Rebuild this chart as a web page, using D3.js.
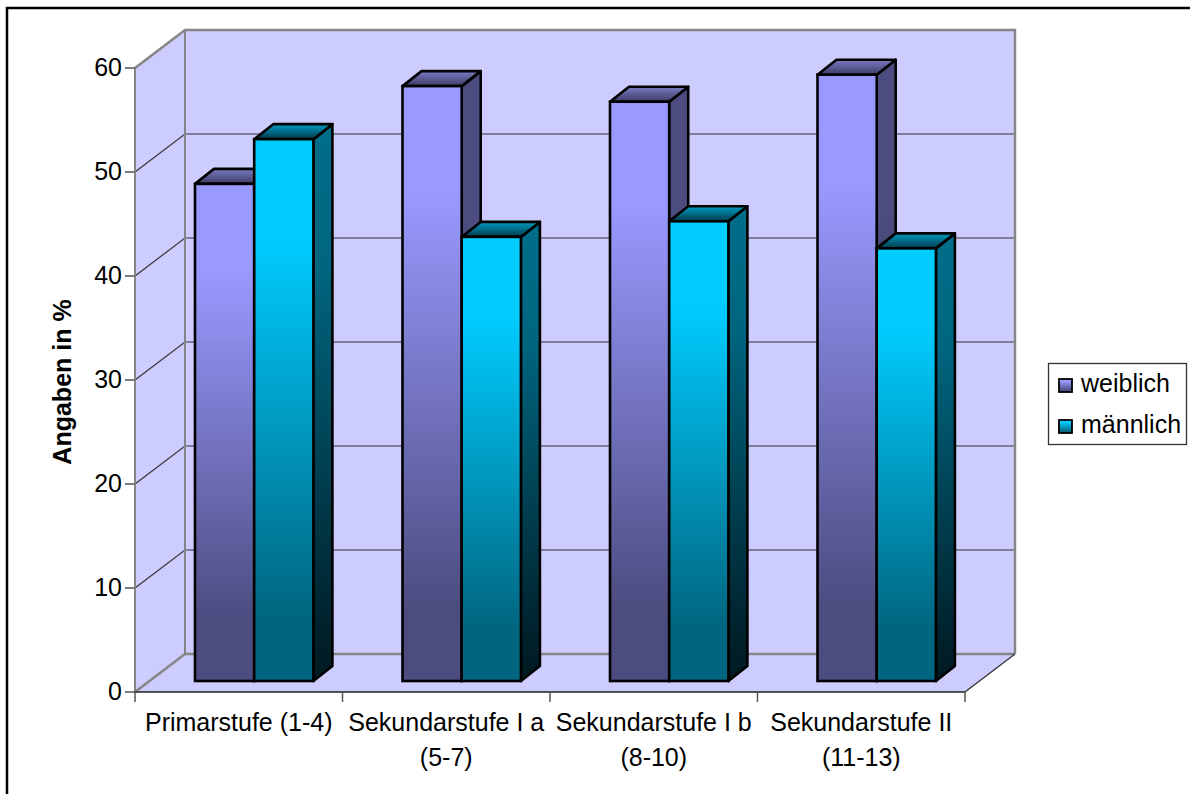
<!DOCTYPE html>
<html><head><meta charset="utf-8">
<script src="https://cdn.jsdelivr.net/npm/d3@7"></script>
<style>html,body{margin:0;padding:0;background:#fff}svg{display:block}text{font-family:"Liberation Sans",Arial,sans-serif;fill:#000}</style>
</head><body><div id="c"></div>
<script>
const categories = [["Primarstufe (1-4)"],["Sekundarstufe I a","(5-7)"],["Sekundarstufe I b","(8-10)"],["Sekundarstufe II","(11-13)"]];
const seriesNames = ["weiblich","männlich"];
const weiblich = [47.8,57.2,55.7,58.3];
const maennlich = [52.1,42.7,44.2,41.6];
const yTicks = [0,10,20,30,40,50,60];
const axisTitle = "Angaben in %";

const W=1190,H=794;
const svg=d3.select("#c").append("svg").attr("width",W).attr("height",H);
const defs=svg.append("defs");
function grad(id,stops){
  const g=defs.append("linearGradient").attr("id",id).attr("x1",0).attr("y1",0).attr("x2",0).attr("y2",1);
  stops.forEach(([o,c])=>g.append("stop").attr("offset",o).attr("stop-color",c));
}
const pal=[
 {front:["#9999ff","#9999ff","#4c4c80","#4c4c80"],side:["#4c4c80","#4c4c80","#1a1a30","#0c0c1a"],top:["#7a7ac4","#3d3d66"]},
 {front:["#00ccff","#00ccff","#006680","#006680"],side:["#006e8a","#006680","#00202a","#001a20"],top:["#009cc4","#00394a"]}
];
pal.forEach((p,i)=>{
  grad("f"+i,[[0,p.front[0]],[.18,p.front[1]],[.88,p.front[2]],[1,p.front[3]]]);
  grad("s"+i,[[0,p.side[0]],[.25,p.side[1]],[.92,p.side[2]],[1,p.side[3]]]);
  grad("t"+i,[[0,p.top[0]],[1,p.top[1]]]);
});

// frame
svg.append("path").attr("d",`M7,${H}V8H${W}`).attr("fill","none").attr("stroke","#000").attr("stroke-width",2.5);

// scales
const x0=135,x1=965,depthX=50,depthY=38;
const y=d3.scaleLinear().domain([0,60]).range([692,68]);
const x=d3.scaleBand().domain(d3.range(categories.length)).range([x0,x1]);
const barW=59.2, barDY=11, bdx=19, bdy=15;
const bgInk="#ccccff", gray="#868686";

const g=svg.append("g");
// walls & floor
const yTop=y(60), yBot=y(0);
g.append("path").attr("d",`M${x0},${yBot}L${x0+depthX},${yBot-depthY}V${yTop-depthY}L${x0},${yTop}Z`).attr("fill",bgInk);
g.append("rect").attr("x",x0+depthX).attr("y",yTop-depthY).attr("width",x1-x0).attr("height",yBot-yTop).attr("fill",bgInk);
g.append("path").attr("d",`M${x0},${yBot}H${x1}L${x1+depthX},${yBot-depthY}H${x0+depthX}Z`).attr("fill",bgInk);

// gridlines
yTicks.filter(t=>t!==0&&t!==60).forEach(t=>{
  const yy=y(t);
  g.append("path").attr("d",`M${x0},${yy}L${x0+depthX},${yy-depthY}H${x1+depthX}`).attr("fill","none").attr("stroke","#333").attr("stroke-width",1.2);
});
// plane outlines
g.append("path").attr("d",`M${x0},${yBot}L${x0+depthX},${yBot-depthY}H${x1+depthX}`).attr("fill","none").attr("stroke",gray).attr("stroke-width",2.5);
g.append("path").attr("d",`M${x0},${yTop}L${x0+depthX},${yTop-depthY}H${x1+depthX}V${yBot-depthY}`).attr("fill","none").attr("stroke",gray).attr("stroke-width",2.5);
g.append("line").attr("x1",x0+depthX).attr("x2",x0+depthX).attr("y1",yTop-depthY).attr("y2",yBot-depthY).attr("stroke",gray).attr("stroke-width",2);
g.append("line").attr("x1",x1).attr("x2",x1+depthX).attr("y1",yBot).attr("y2",yBot-depthY).attr("stroke","#333").attr("stroke-width",1.3);

// bars
const base=y(0)-barDY;
const barTop=v=>base-(y(0)-y(v));
[weiblich,maennlich].forEach((vals,s)=>{
  const barsG=g.append("g");
  vals.forEach((v,i)=>{
    const bx=x(i)+60+s*barW;
    const tp=barTop(v);
    const b=barsG.append("g");
    b.append("path").attr("d",`M${bx+barW},${tp}l${bdx},${-bdy}V${base-bdy}L${bx+barW},${base}Z`)
      .attr("fill",`url(#s${s})`).attr("stroke","#000").attr("stroke-width",2.6).attr("stroke-linejoin","round");
    b.append("path").attr("d",`M${bx},${tp}l${bdx},${-bdy}h${barW}l${-bdx},${bdy}Z`)
      .attr("fill",`url(#t${s})`).attr("stroke","#000").attr("stroke-width",2.6).attr("stroke-linejoin","round");
    b.append("rect").attr("x",bx).attr("y",tp).attr("width",barW).attr("height",base-tp)
      .attr("fill",`url(#f${s})`).attr("stroke","#000").attr("stroke-width",2.6);
  });
});

// axes
const ax=svg.append("g").attr("stroke-linecap","butt");
ax.append("line").attr("x1",x0).attr("x2",x0).attr("y1",yTop).attr("y2",yBot).attr("stroke",gray).attr("stroke-width",2);
ax.append("line").attr("x1",x0).attr("x2",x1).attr("y1",yBot).attr("y2",yBot).attr("stroke","#222").attr("stroke-width",1.5);
yTicks.forEach(t=>{
  ax.append("line").attr("x1",x0-10).attr("x2",x0).attr("y1",y(t)).attr("y2",y(t)).attr("stroke","#555").attr("stroke-width",1.5);
  svg.append("text").attr("x",x0-13).attr("y",y(t)+8).attr("text-anchor","end").attr("font-size",25).text(t);
});
d3.range(categories.length+1).forEach(i=>{
  const xx=x0+i*x.step();
  ax.append("line").attr("x1",xx).attr("x2",xx).attr("y1",yBot).attr("y2",yBot+10).attr("stroke","#555").attr("stroke-width",1.5);
});
categories.forEach((lines,i)=>{
  const t=svg.append("text").attr("text-anchor","middle").attr("font-size",25);
  lines.forEach((l,k)=>t.append("tspan").attr("x",x(i)+x.bandwidth()/2).attr("y",731+k*34.5).text(l));
});
svg.append("text").attr("transform","translate(71,382) rotate(-90)").attr("text-anchor","middle").attr("font-size",25).attr("font-weight","bold").text(axisTitle);

// legend
const L=svg.append("g");
L.append("rect").attr("x",1048.5).attr("y",363.5).attr("width",138).attr("height",81).attr("fill","#fff").attr("stroke","#333").attr("stroke-width",1.3);
seriesNames.forEach((n,i)=>{
  const ly=379+i*41;
  L.append("rect").attr("x",1059).attr("y",ly).attr("width",13).attr("height",13).attr("fill",`url(#f${i})`).attr("stroke","#000").attr("stroke-width",1.8);
  L.append("text").attr("x",1081).attr("y",ly+13).attr("font-size",25).text(n);
});
</script></body></html>
